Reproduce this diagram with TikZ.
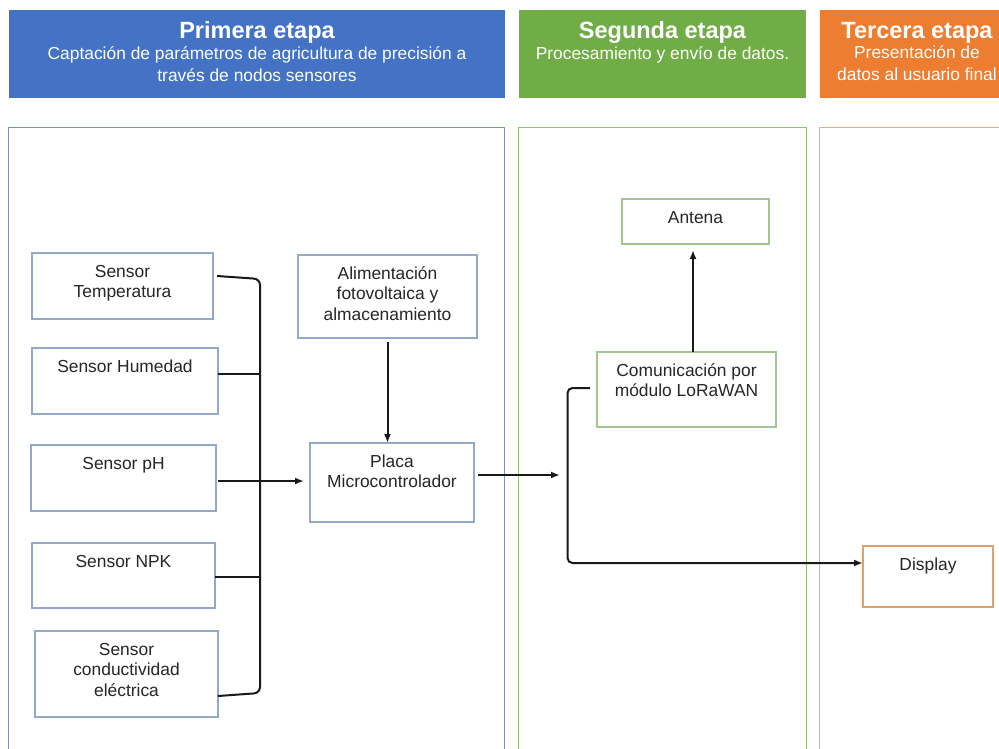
\documentclass[tikz,border=0pt]{standalone}
\usepackage{fontspec}
\setmainfont{Liberation Sans}
\usetikzlibrary{arrows.meta}

\definecolor{hblue}{HTML}{4472C4}
\definecolor{hgreen}{HTML}{70AD47}
\definecolor{horange}{HTML}{ED7D31}
\definecolor{pblue}{HTML}{7A96C8}
\definecolor{pgreen}{HTML}{93BF74}
\definecolor{porange}{HTML}{F0AA80}
\definecolor{bblue}{HTML}{94A8C9}
\definecolor{bgreen}{HTML}{A3C690}
\definecolor{borange}{HTML}{E0A06E}
\definecolor{ink}{HTML}{262626}

% text of a box: width, height, lines (top aligned)
\newcommand{\boxtxt}[3]{\parbox[c][#2][t]{#1}{\centering\fontsize{17.4}{20.5}\selectfont
  \vspace*{7pt}\rule{0pt}{17pt}#3\par}}
% text of a stage header: width, title, subtitle lines
\newcommand{\headtxt}[3]{\parbox[c][88pt][t]{#1}{\centering\fontsize{17.4}{22}\selectfont
  \vspace*{11.5pt}\rule{0pt}{17pt}{\fontsize{23.5}{22}\selectfont\bfseries #2}\\[-1.5pt]#3\par}}

\tikzset{
  hdr/.style={anchor=north west, inner sep=0pt, outer sep=0pt, text=white},
  stagebox/.style={anchor=north west, draw, line width=1.3pt, inner sep=0pt,
    outer sep=0pt, text=ink, fill=white},
  panel/.style={line width=1.4pt},
  conn/.style={draw=black!90, line width=2pt},
  arr/.style={conn, -{Latex[length=9pt,width=7pt]}},
}

\begin{document}
\begin{tikzpicture}[x=1pt,y=-1pt]
\useasboundingbox[fill=white] (0,0) rectangle (999,749);

% stage panels
\draw[panel, draw=pblue]   (8.5,127.5) rectangle (504.5,770);
\draw[panel, draw=pgreen]  (518.5,127.5) rectangle (806.5,770);
\draw[panel, draw=porange] (819.5,127.5) rectangle (1014,770);

% stage headers
\node[hdr, fill=hblue] (h1) at (9,10)
  {\headtxt{496pt}{Primera etapa}{Captación de parámetros de agricultura de precisión a\\través de nodos sensores}};
\node[hdr, fill=hgreen] (h2) at (519,10)
  {\headtxt{287pt}{Segunda etapa}{Procesamiento y envío de datos.}};
\node[hdr, fill=horange] (h3) at (820,10)
  {\headtxt{194pt}{Tercera etapa}{Presentación de\\datos al usuario final}};

% first stage: sensors and controller
\node[stagebox, draw=bblue] (temp) at (32,253) {\boxtxt{181pt}{66pt}{Sensor\\Temperatura}};
\node[stagebox, draw=bblue] (hum)  at (32,348) {\boxtxt{186pt}{66pt}{Sensor Humedad}};
\node[stagebox, draw=bblue] (ph)   at (31,445) {\boxtxt{185pt}{66pt}{Sensor pH}};
\node[stagebox, draw=bblue] (npk)  at (32,543) {\boxtxt{183pt}{65pt}{Sensor NPK}};
\node[stagebox, draw=bblue] (cond) at (35,631) {\boxtxt{183pt}{86pt}{Sensor\\conductividad\\eléctrica}};
\node[stagebox, draw=bblue] (alim) at (298,255) {\boxtxt{179pt}{83pt}{Alimentación\\fotovoltaica y\\almacenamiento}};
\node[stagebox, draw=bblue] (placa) at (310,443) {\boxtxt{164pt}{79pt}{Placa\\Microcontrolador}};

% second stage
\node[stagebox, draw=bgreen] (antena) at (622,199) {\boxtxt{147pt}{45pt}{Antena}};
\node[stagebox, draw=bgreen] (comm) at (597,352) {\boxtxt{179pt}{75pt}{Comunicación por\\módulo LoRaWAN}};

% third stage
\node[stagebox, draw=borange] (display) at (863,546) {\boxtxt{130pt}{61pt}{Display}};

% sensor bus
\coordinate (busTop) at (260,279);
\coordinate (busBot) at (260,693);
\draw[conn, rounded corners=6pt] ([xshift=4pt,yshift=-23pt]temp.north east)
  -- (busTop) -- (busBot) -- ([yshift=21pt]cond.south east);
\path ([yshift=7pt]hum.east) coordinate (humOut);
\draw[conn] (humOut) -- (humOut -| busTop);
\path ([yshift=-1.5pt]npk.east) coordinate (npkOut);
\draw[conn] (npkOut) -- (npkOut -| busTop);
\path ([xshift=2pt,yshift=-3pt]ph.east) coordinate (phOut);
\draw[arr, shorten >=6pt] (phOut) -- (phOut -| placa.west);

% power to controller
\draw[arr, shorten <=4pt] (alim.south) -- (alim.south |- placa.north);

% controller output
\path ([xshift=4pt,yshift=7.5pt]placa.east) coordinate (pOut);
\coordinate (pEnd) at (560,475);
\draw[arr] (pOut) -- (pEnd);

% LoRaWAN module to antenna
\draw[arr, shorten >=6pt] ([xshift=6.5pt]comm.north) -- ([xshift=6.5pt]comm.north |- antena.south);

% LoRaWAN module to display
\path ([xshift=-7pt,yshift=1.5pt]comm.west) coordinate (cOut);
\coordinate (cBend) at (567.5,388);
\draw[arr, rounded corners=5pt] (cOut) -- (cBend) |- ([yshift=13.5pt]display.west);
\end{tikzpicture}
\end{document}
